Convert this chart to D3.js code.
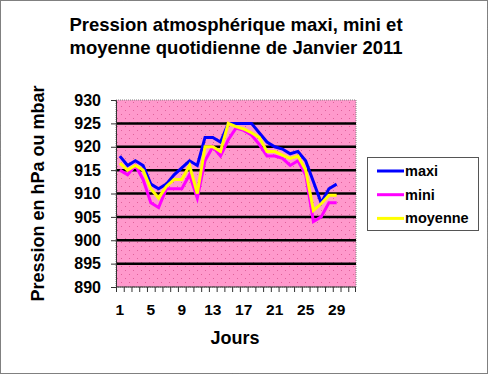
<!DOCTYPE html>
<html>
<head>
<meta charset="utf-8">
<script src="https://cdn.jsdelivr.net/npm/d3@7"></script>
<style>
  body { margin: 0; background: #fff; }
  svg { display: block; font-family: Arial, "Liberation Sans", sans-serif; }
</style>
</head>
<body>
<div id="chart"></div>
<script>
// jours du mois (categories) et valeurs lues
const jours = [1,2,3,4,5,6,7,8,9,10,11,12,13,14,15,16,17,18,19,20,21,22,23,24,25,26,27,28,29,30,31];
const joursLabels = [1,5,9,13,17,21,25,29];
const maxi = [918,916,917,916,912,911,912,914,915.5,917,916,922,922,921,925,925,925,925,923,921,920,919.5,918.5,919,917,912.5,908,911,912];
const mini = [915,914,916,913,908,907,911,911,911,914,909,917,920,918,921.5,924,923.5,922.5,920.5,918,918,917.5,916,917,914,904,905,908,908];
const moyenne = [916.5,915,916,915,911,909,911.5,913,913,916,910,920,920,919,925,924.3,923.8,923,922,919,919,918.2,917.5,918,915,906.4,907.8,909.6,909.6];
const yTicks = [890,895,900,905,910,915,920,925,930];

const width = 488, height = 374;
const plot = {left: 116, right: 356, top: 100, bottom: 287};

const svg = d3.select("#chart").append("svg")
    .attr("width", width)
    .attr("height", height);

// outer dotted frame
svg.append("rect")
    .attr("x", 0.5).attr("y", 0.5)
    .attr("width", width - 1).attr("height", height - 1)
    .attr("fill", "#fff")
    .attr("stroke", "#000")
    .attr("stroke-dasharray", "1,1");

// dotted pink pattern for the plot area
let defs = svg.append("defs");
let pat = defs.append("pattern")
    .attr("id", "dots")
    .attr("patternUnits", "userSpaceOnUse")
    .attr("width", 8).attr("height", 8);
pat.append("rect").attr("width", 8).attr("height", 8).attr("fill", "#FF99CC");
pat.append("rect").attr("x", 1).attr("y", 2).attr("width", 1).attr("height", 1).attr("fill", "#E0609A");
pat.append("rect").attr("x", 5).attr("y", 6).attr("width", 1).attr("height", 1).attr("fill", "#E0609A");

let xScale = d3.scaleBand()
    .domain(jours)
    .range([plot.left, plot.right])
    .padding(0);
let yScale = d3.scaleLinear()
    .domain([890, 930])
    .range([plot.bottom, plot.top]);

svg.append("rect")
    .attr("x", plot.left).attr("y", plot.top)
    .attr("width", plot.right - plot.left)
    .attr("height", plot.bottom - plot.top)
    .attr("fill", "url(#dots)")
    .attr("stroke", "#808080")
    .attr("stroke-dasharray", "1,1");

// gridlines
svg.append("g").selectAll("line")
    .data(yTicks.filter(t => t > 890 && t < 930))
    .enter().append("line")
    .attr("x1", plot.left).attr("x2", plot.right)
    .attr("y1", d => yScale(d)).attr("y2", d => yScale(d))
    .attr("stroke", "#000")
    .attr("stroke-width", 2.5);

// y axis
let yAxis = svg.append("g")
    .attr("transform", "translate(" + plot.left + ",0)")
    .call(d3.axisLeft(yScale).tickValues(yTicks).tickSize(5).tickPadding(10));
yAxis.selectAll("text")
    .style("font-size", "16px").style("font-weight", "bold").attr("fill", "#000");
yAxis.select(".domain").attr("stroke", "#333");
yAxis.selectAll(".tick line").attr("stroke", "#333");

// x axis: ticks at category boundaries, labels every 4 days
let xAxis = svg.append("g")
    .attr("transform", "translate(0," + plot.bottom + ")");
xAxis.append("line")
    .attr("x1", plot.left).attr("x2", plot.right)
    .attr("stroke", "#333");
xAxis.selectAll(".bt")
    .data(jours)
    .enter().append("line")
    .attr("class", "bt")
    .attr("x1", d => xScale(d) + 0.5).attr("x2", d => xScale(d) + 0.5)
    .attr("y1", 0).attr("y2", 5)
    .attr("stroke", "#333");
xAxis.append("line")
    .attr("x1", plot.right - 0.5).attr("x2", plot.right - 0.5)
    .attr("y1", 0).attr("y2", 5)
    .attr("stroke", "#333");
xAxis.selectAll("text")
    .data(joursLabels)
    .enter().append("text")
    .attr("x", d => xScale(d) + xScale.bandwidth() / 2)
    .attr("y", 28)
    .attr("text-anchor", "middle")
    .style("font-size", "15.5px").style("font-weight", "bold")
    .text(d => d);

// series
let series = [
    {name: "maxi", values: maxi, color: "#0000FF"},
    {name: "mini", values: mini, color: "#FF00FF"},
    {name: "moyenne", values: moyenne, color: "#FFFF00"}
];
let lineGen = d3.line()
    .x((d, i) => xScale(jours[i]) + xScale.bandwidth() / 2)
    .y(d => yScale(d));
svg.append("g").selectAll("path")
    .data(series)
    .enter().append("path")
    .attr("fill", "none")
    .attr("stroke", d => d.color)
    .attr("stroke-width", 3)
    .attr("stroke-linejoin", "miter")
    .attr("d", d => lineGen(d.values));

// titles
let title = svg.append("text")
    .attr("text-anchor", "middle")
    .style("font-size", "18.5px").style("font-weight", "bold");
title.append("tspan").attr("x", 236).attr("y", 31).text("Pression atmosphérique maxi, mini et");
title.append("tspan").attr("x", 236).attr("y", 54).text("moyenne quotidienne de Janvier 2011");

svg.append("text")
    .attr("x", 235).attr("y", 344)
    .attr("text-anchor", "middle")
    .style("font-size", "18px").style("font-weight", "bold")
    .text("Jours");

svg.append("text")
    .attr("transform", "translate(44," + ((plot.top + plot.bottom) / 2) + ") rotate(-90)")
    .attr("text-anchor", "middle")
    .style("font-size", "18px").style("font-weight", "bold")
    .text("Pression en hPa ou mbar");

// legend
let legend = svg.append("g");
legend.append("rect")
    .attr("x", 367.5).attr("y", 157.5)
    .attr("width", 111).attr("height", 73)
    .attr("fill", "#fff")
    .attr("stroke", "#555");
let items = legend.selectAll(".item")
    .data(series)
    .enter().append("g")
    .attr("class", "item")
    .attr("transform", (d, i) => "translate(0," + (171 + i * 23.7) + ")");
items.append("line")
    .attr("x1", 377).attr("x2", 404)
    .attr("stroke", d => d.color)
    .attr("stroke-width", 3);
items.append("text")
    .attr("x", 405).attr("y", 5)
    .style("font-size", "14.5px").style("font-weight", "bold")
    .text(d => d.name);
</script>
</body>
</html>
